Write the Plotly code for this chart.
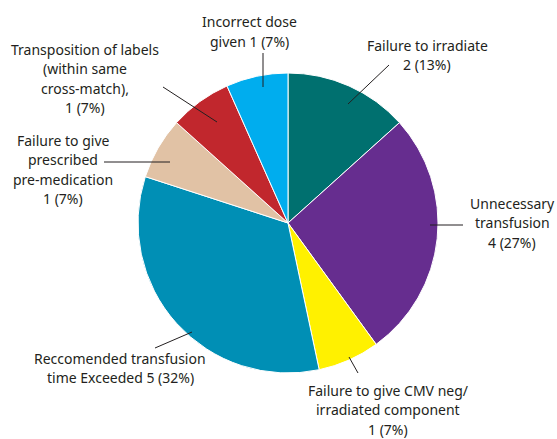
import plotly.graph_objects as go

W, H = 557, 439

categories = [
    "Failure to irradiate",
    "Unnecessary transfusion",
    "Failure to give CMV neg/irradiated component",
    "Reccomended transfusion time Exceeded",
    "Failure to give prescribed pre-medication",
    "Transposition of labels (within same cross-match)",
    "Incorrect dose given",
]
values = [2, 4, 1, 5, 1, 1, 1]
percent_labels = ["13%", "27%", "7%", "32%", "7%", "7%", "7%"]
colors = ["#00706F", "#662D8F", "#FFF100", "#008FB5", "#E1C2A5", "#C1272D", "#00ADEE"]

# label text lines (as printed on chart)
label_lines = [
    ["Failure to irradiate", "2 (13%)"],
    ["Unnecessary", "transfusion", "4 (27%)"],
    ["Failure to give CMV neg/", "irradiated component", "1 (7%)"],
    ["Reccomended transfusion", "time Exceeded 5 (32%)"],
    ["Failure to give", "prescribed", "pre-medication", "1 (7%)"],
    ["Transposition of labels", "(within same", "cross-match),", "1 (7%)"],
    ["Incorrect dose", "given 1 (7%)"],
]

# layout of labels (pixel positions): center x, first-line y
label_pos = [(427, 45), (512, 203), (388, 390), (120, 358), (63, 140), (85, 49), (249, 22)]
line_gap = 19.6
# leader line endpoints (pixels): inner (x, y), outer (x, y)
leaders = [
    ((348, 104), (389, 65)),
    ((430, 225), (463, 225)),
    ((349, 357), (358, 373)),
    ((192, 332), (155, 348)),
    ((170, 162), (104, 162)),
    ((217, 122), (163, 87)),
    ((263, 87), (263, 53)),
]

cx, cy, R = 288, 223, 150

fig = go.Figure(go.Pie(
    labels=categories,
    values=values,
    sort=False,
    direction="clockwise",
    rotation=0,
    marker=dict(colors=colors, line=dict(color="white", width=1)),
    textinfo="none",
    hoverinfo="label+value",
    domain=dict(x=[(cx - R) / W, (cx + R) / W], y=[1 - (cy + R) / H, 1 - (cy - R) / H]),
    showlegend=False,
))

font = dict(family="Noto Sans, Open Sans, sans-serif", size=14, color="#231F20")

anns = []
for lines, (lx, ly) in zip(label_lines, label_pos):
    for i, t in enumerate(lines):
        anns.append(dict(
            x=lx / W, y=1 - (ly + i * line_gap) / H, xref="paper", yref="paper",
            text=t, showarrow=False, xanchor="center", yanchor="middle", font=font,
        ))

shapes = []
for (p0, p1) in leaders:
    shapes.append(dict(
        type="line", xref="paper", yref="paper",
        x0=p0[0] / W, y0=1 - p0[1] / H, x1=p1[0] / W, y1=1 - p1[1] / H,
        line=dict(color="#231F20", width=1),
    ))

fig.update_layout(
    width=W, height=H,
    margin=dict(l=0, r=0, t=0, b=0),
    paper_bgcolor="white", plot_bgcolor="white",
    annotations=anns, shapes=shapes,
)

fig.write_html(
    "out.html",
    config={"displayModeBar": False},
    post_script="document.body.style.margin='0';document.body.style.overflow='hidden';",
)
